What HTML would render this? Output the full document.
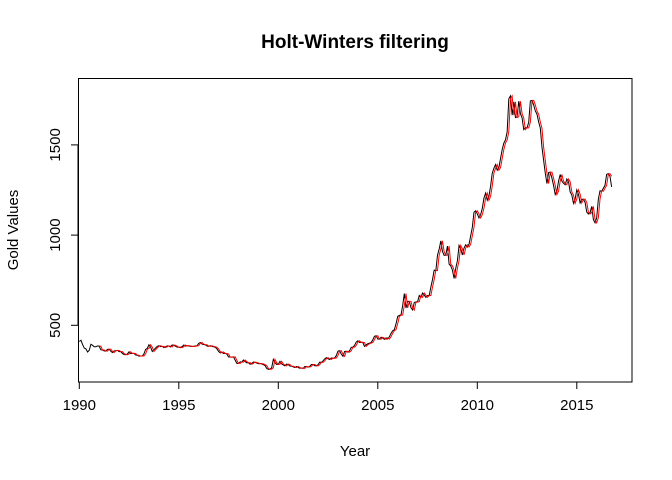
<!DOCTYPE html>
<html><head><meta charset="utf-8"><style>
html,body{margin:0;padding:0;background:#fff;}
svg{display:block;font-family:"Liberation Sans",Arial,sans-serif;}
</style></head><body>
<svg id="chart" width="672" height="480">
<text x="355" y="48" text-anchor="middle" font-size="19" font-weight="bold">Holt-Winters filtering</text>
<text x="355" y="456" text-anchor="middle" font-size="15">Year</text>
<text transform="translate(18,230) rotate(-90)" text-anchor="middle" font-size="15">Gold Values</text>
<rect x="78.5" y="78.5" width="553.5" height="303.5" fill="none" stroke="#000"/>
<g id="axes"></g>
<g id="series"></g>
</svg>
<script>
const startYear = 1990;
const gold = [
410,417,393,374,369,352,362,395,389,381,381,386,
384,364,363,358,357,367,368,356,349,358,360,361,
354,354,344,338,337,341,353,343,345,344,335,334,
329,330,330,342,367,372,392,379,355,364,374,383,
387,382,384,377,381,386,385,380,391,389,384,379,
379,376,382,391,385,387,386,383,383,383,386,387,
400,405,396,393,392,385,383,387,383,381,378,369,
355,347,352,344,344,341,324,324,323,325,306,289,
289,297,296,308,299,292,293,284,289,296,294,291,
287,288,286,282,277,261,256,257,265,311,293,283,
284,300,286,280,275,285,282,274,273,270,266,272,
266,262,263,261,272,270,268,273,283,283,276,275,
282,296,294,303,314,321,314,310,319,317,319,333,
357,359,340,328,355,356,351,359,378,379,389,407,
414,405,406,404,383,392,398,401,405,420,439,442,
424,423,434,429,422,431,424,437,456,470,476,509,
549,555,557,610,676,596,633,632,598,585,627,629,
631,665,655,679,667,655,665,665,712,754,806,803,
889,922,968,909,888,889,939,839,829,806,760,816,
858,943,924,890,928,946,934,949,996,1043,1127,1135,
1118,1095,1113,1148,1205,1233,1193,1215,1271,1342,1370,1391,
1360,1374,1424,1474,1510,1528,1572,1756,1772,1665,1739,1652,
1656,1742,1673,1650,1585,1596,1594,1626,1744,1747,1721,1688,
1670,1627,1593,1487,1414,1343,1286,1347,1349,1316,1275,1225,
1244,1300,1336,1299,1287,1279,1311,1296,1239,1222,1176,1200,
1251,1227,1178,1198,1199,1181,1128,1117,1125,1159,1086,1068,
1097,1200,1246,1243,1260,1276,1337,1341,1326,1267];
const fittedStart = 1991;
const fitted = [
386,384,364,363,358,357,367,368,356,349,358,360,
361,354,354,344,338,337,341,353,343,345,344,335,
334,329,330,330,342,367,372,392,379,355,364,374,
383,387,382,384,377,381,386,385,380,391,389,384,
379,379,376,382,391,385,387,386,383,383,383,386,
387,400,405,396,393,392,385,383,387,383,381,378,
369,355,347,352,344,344,341,324,324,323,325,306,
289,289,297,296,308,299,292,293,284,289,296,294,
291,287,288,286,282,277,261,256,257,265,311,293,
283,284,300,286,280,275,285,282,274,273,270,266,
272,266,262,263,261,272,270,268,273,283,283,276,
275,282,296,294,303,314,321,314,310,319,317,319,
333,357,359,340,328,355,356,351,359,378,379,389,
407,414,405,406,404,383,392,398,401,405,420,439,
442,424,423,434,429,422,431,424,437,456,470,476,
509,549,555,557,610,676,596,633,632,598,585,627,
629,631,665,655,679,667,655,665,665,712,754,806,
803,889,922,968,909,888,889,939,839,829,806,760,
816,858,943,924,890,928,946,934,949,996,1043,1127,
1135,1118,1095,1113,1148,1205,1233,1193,1215,1271,1342,1370,
1391,1360,1374,1424,1474,1510,1528,1572,1756,1772,1665,1739,
1652,1656,1742,1673,1650,1585,1596,1594,1626,1744,1747,1721,
1688,1670,1627,1593,1487,1414,1343,1286,1347,1349,1316,1275,
1225,1244,1300,1336,1299,1287,1279,1311,1296,1239,1222,1176,
1200,1251,1227,1178,1198,1199,1181,1128,1117,1125,1159,1086,
1068,1097,1200,1246,1243,1260,1276,1337,1341,1326];
const xTicks = [1990,1995,2000,2005,2010,2015];
const yTicks = [500,1000,1500];

const NS = "http://www.w3.org/2000/svg";
function xs(t){ return 79.3 + (t - 1990) * 19.9; }
function ys(v){ return 325.3 - (v - 500) * 0.1804; }
function mk(tag, attrs, parent){
  const e = document.createElementNS(NS, tag);
  for (const k in attrs) e.setAttribute(k, attrs[k]);
  parent.appendChild(e); return e;
}
const axes = document.getElementById("axes");
mk("line",{x1:xs(xTicks[0]),x2:xs(xTicks[xTicks.length-1]),y1:382,y2:382,stroke:"#000"},axes);
xTicks.forEach(t=>{
  const l = mk("line",{x1:xs(t),x2:xs(t),y1:382,y2:389,stroke:"#000"},axes);
  
  
  const tx = mk("text",{x:xs(t),y:410,"text-anchor":"middle","font-size":15},axes);
  tx.textContent = t;
  
  
});
mk("line",{x1:78,x2:78,y1:ys(yTicks[0]),y2:ys(yTicks[yTicks.length-1]),stroke:"#000"},axes);
yTicks.forEach(v=>{
  const l = mk("line",{x1:71,x2:78,y1:ys(v),y2:ys(v),stroke:"#000"},axes);
  
  
  const tx = mk("text",{transform:`translate(60,${ys(v)}) rotate(-90)`,"text-anchor":"middle","font-size":15},axes);
  tx.textContent = v;
  
  
});
const series = document.getElementById("series");
function path(arr, start, color){
  let d = "";
  arr.forEach((v,i)=>{ d += (i? "L":"M") + xs(start + i/12).toFixed(2) + "," + ys(v).toFixed(2); });
  return mk("path",{d:d,fill:"none",stroke:color,"stroke-width":1},series);
}
const p1 = path(gold, startYear, "#000");


const p2 = path(fitted, fittedStart, "#f00");


</script>
</body></html>
